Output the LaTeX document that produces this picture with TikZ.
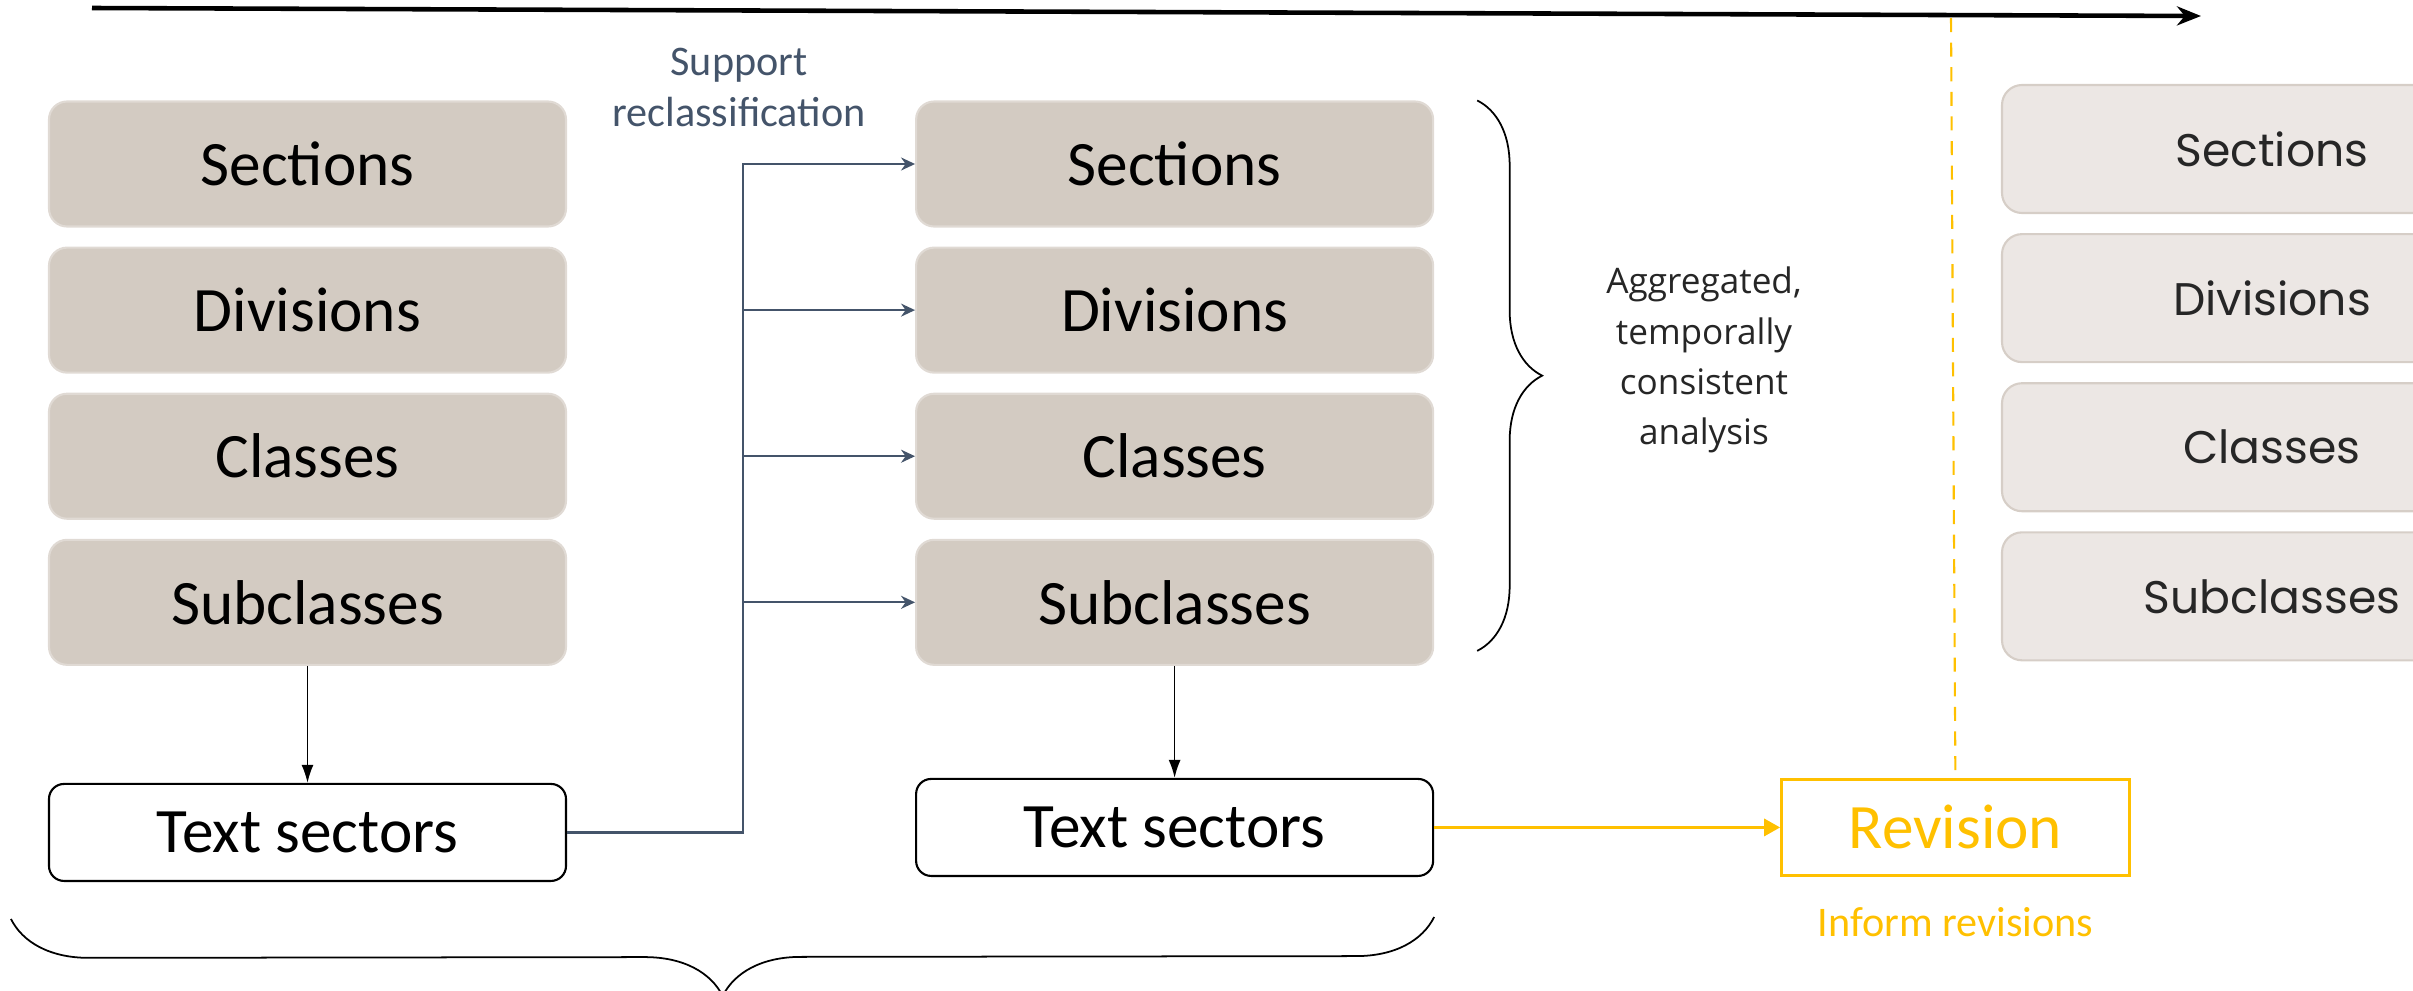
\documentclass[tikz,border=0pt]{standalone}
\usepackage{fontspec}
\setmainfont{Carlito}
\newfontfamily\aggfont{Open Sans}
\newfontfamily\oldfont{Poppins}
\usetikzlibrary{arrows.meta,positioning,calc,decorations.pathreplacing}
\definecolor{tanfill}{RGB}{211,203,194}
\definecolor{tanedge}{RGB}{224,218,212}
\definecolor{palefill}{RGB}{236,231,228}
\definecolor{paleedge}{RGB}{214,206,199}
\definecolor{slate}{RGB}{68,84,106}
\definecolor{amber}{RGB}{255,192,0}

\begin{document}
\begin{tikzpicture}[
    node distance=0.19cm,
    every node/.style={font=\fontsize{18}{22}\selectfont},
    level/.style={rounded corners=0.18cm, fill=tanfill, draw=tanedge, line width=0.6pt, minimum width=5.17cm, minimum height=1.25cm, inner sep=0pt},
    sectors/.style={draw, rounded corners=0.15cm, line width=0.6pt, fill=white, minimum width=5.17cm, minimum height=0.97cm, inner sep=0pt},
    faded/.style={rounded corners=0.2cm, fill=palefill, draw=paleedge, line width=0.6pt, minimum width=5.4cm, minimum height=1.28cm, inner sep=0pt, font=\oldfont\fontsize{13}{16}\selectfont, text=black!85},
    revbox/.style={draw=amber, line width=0.7pt, minimum width=3.48cm, minimum height=0.96cm, inner sep=0pt, text=amber},
    down/.style={-{Latex[length=1.8mm, width=1.2mm]}, line width=0.45pt},
    link/.style={-{Stealth[length=1.4mm, width=1.3mm]}, draw=slate, line width=0.6pt},
    inform/.style={-{Triangle[length=1.6mm, width=1.7mm]}, draw=amber, line width=0.9pt},
    timeline/.style={-{Stealth[length=2.4mm, width=1.9mm]}, line width=1.3pt},
    curly/.style={decorate, decoration={brace, amplitude=#1}, line width=0.5pt}
]
\clip (0,0) rectangle (24.13,-9.90);

\node[level] (sec) at (3.075,-1.64) {Sections};
\node[level, below=of sec] (div) {Divisions};
\node[level, below=of div] (cls) {Classes};
\node[level, below=of cls] (sub) {Subclasses};
\node[sectors, below=1.17cm of sub] (ts) {Text sectors};

\node[level, right=3.48cm of sec] (msec) {Sections};
\node[level, below=of msec] (mdiv) {Divisions};
\node[level, below=of mdiv] (mcls) {Classes};
\node[level, below=of mcls] (msub) {Subclasses};
\node[sectors, below=1.12cm of msub] (mts) {Text sectors};

\node[revbox, right=3.46cm of mts] (rev) {Revision};
\node[below=0.18cm of rev, text=amber, font=\fontsize{12}{14}\selectfont] (revnote) {Inform revisions};

\node[faded] (rsec) at (22.72,-1.49) {Sections};
\node[faded, below=of rsec] (rdiv) {Divisions};
\node[faded, below=of rdiv] (rcls) {Classes};
\node[faded, below=of rcls] (rsub) {Subclasses};

\node[text=slate, align=center, font=\fontsize{12}{14.5}\selectfont] (support) at (7.39,-0.87) {Support\\reclassification};
\node[text=black!85, align=center, font=\aggfont\fontsize{10}{14.3}\selectfont] (agg) at (17.04,-3.60) {Aggregated,\\temporally\\consistent\\analysis};

\coordinate (t0) at (0.92,-0.08);
\coordinate (t1) at (22.01,-0.16);
\coordinate (d0) at (19.51,-0.18);
\draw[timeline] (t0) -- (t1);
\draw[amber, line width=0.6pt, dash pattern=on 4pt off 3pt] (d0) -- (rev.north);

\draw[down] (sub) -- (ts);
\draw[down] (msub) -- (mts);
\draw[link] (ts.east) -| ([xshift=-1.72cm]msec.west) -- (msec.west);
\foreach \n in {mdiv,mcls,msub}
  \draw[link] ([xshift=-1.72cm]\n.west) -- (\n.west);
\draw[inform] (mts) -- (rev);

\draw[curly=0.65cm] ($(msec.north east)+(0.43,0)$) -- ($(msub.south east)+(0.43,0.15)$);
\draw[curly=0.78cm] ($(mts.south east)+(0,-0.40)$) -- ($(ts.south west)+(-0.37,-0.37)$);
\end{tikzpicture}
\end{document}
